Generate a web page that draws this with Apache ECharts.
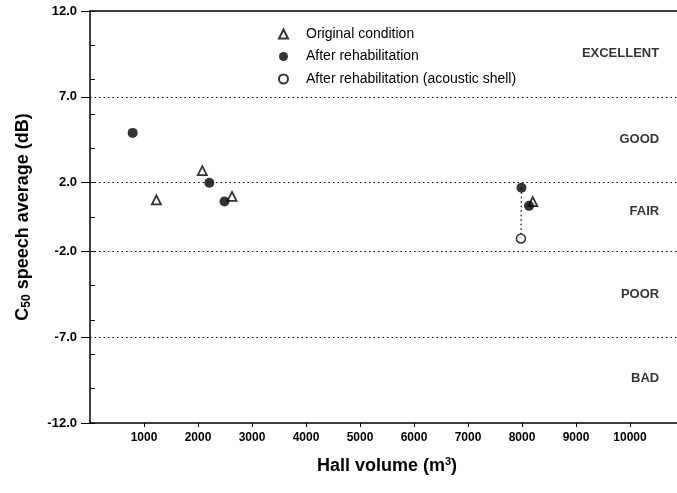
<!DOCTYPE html>
<html>
<head>
<meta charset="utf-8">
<script src="https://cdn.jsdelivr.net/npm/echarts@6/dist/echarts.min.js"></script>
<style>html,body{margin:0;padding:0;background:#fff}#c{width:677px;height:493px}</style>
</head>
<body>
<div id="c"></div>
<script>
const xTickValues = [1000, 2000, 3000, 4000, 5000, 6000, 7000, 8000, 9000, 10000];
const yLabelValues = [12, 7, 2, -2, -7, -12];
const yGridValues = [7, 2, -2, -7];

const origX = [1230, 2080, 2630, 8200];
const origY = [1.0, 2.7, 1.2, 0.9];

const rehabX = [790, 2210, 2490, 7990, 8130];
const rehabY = [4.9, 2.0, 0.9, 1.7, 0.65];

const shellX = [7980];
const shellY = [-1.25];

const linkX = [7990, 7980];
const linkY = [1.7, -1.25];

const bandNames = ['EXCELLENT', 'GOOD', 'FAIR', 'POOR', 'BAD'];
const bandY = [9.5, 4.5, 0.3, -4.5, -9.4];
const bandX = 10540;

const FONT = 'Liberation Sans';
const zip = (xs, ys) => xs.map((x, i) => [x, ys[i]]);

const chart = echarts.init(document.getElementById('c'), null, {renderer: 'canvas'});
chart.setOption({
  animation: false,
  backgroundColor: '#fff',
  textStyle: {fontFamily: FONT, color: '#000'},
  grid: {left: 90, top: 11, width: 594, height: 412, containLabel: false, outerBoundsMode: 'none'},
  legend: {
    orient: 'vertical',
    left: 273,
    top: 22,
    itemWidth: 9,
    itemHeight: 9,
    itemGap: 8.5,
    selectedMode: false,
    textStyle: {fontFamily: FONT, fontSize: 14, color: '#000', fontWeight: 'normal', padding: [0, 0, 0, 13]},
    data: ['Original condition', 'After rehabilitation', 'After rehabilitation (acoustic shell)']
  },
  xAxis: [{
    type: 'value', min: 0, max: 11000, interval: 1000,
    position: 'bottom',
    name: 'Hall volume (m{sup|3})',
    nameLocation: 'middle', nameGap: 33,
    nameTextStyle: {
      fontFamily: FONT, fontSize: 18, fontWeight: 'bold', color: '#000',
      rich: {sup: {fontSize: 11, fontWeight: 'bold', fontFamily: FONT, padding: [0, 0, 10, 0], color: '#000'}}
    },
    axisLine: {show: true, onZero: false, lineStyle: {color: '#000', width: 1.5}},
    axisTick: {show: true, inside: false, length: 4, customValues: xTickValues, lineStyle: {color: '#000', width: 1}},
    axisLabel: {customValues: xTickValues, formatter: v => String(v), fontFamily: FONT, fontSize: 12, fontWeight: 'bold', color: '#000', margin: 9},
    splitLine: {show: false}
  }, {
    type: 'value', min: 0, max: 11000, position: 'top',
    axisLine: {show: true, onZero: false, lineStyle: {color: '#000', width: 1.5}},
    axisTick: {show: false}, axisLabel: {show: false}, splitLine: {show: false}
  }],
  yAxis: [{
    type: 'value', min: -12, max: 12,
    position: 'left',
    name: '{a|C}{s|50}{a| speech average (dB)}',
    nameLocation: 'middle', nameGap: 57,
    nameRotate: 90,
    nameTextStyle: {
      fontFamily: FONT, fontSize: 18, fontWeight: 'bold', color: '#000',
      rich: {
        a: {fontSize: 18, fontWeight: 'bold', fontFamily: FONT, color: '#000'},
        s: {fontSize: 12, fontWeight: 'bold', fontFamily: FONT, color: '#000', padding: [8, 0, 0, 0]}
      }
    },
    axisLine: {show: true, onZero: false, lineStyle: {color: '#000', width: 1.5}},
    axisTick: {show: true, inside: false, length: 9, customValues: yLabelValues, lineStyle: {color: '#000', width: 1}},
    axisLabel: {customValues: yLabelValues, formatter: v => v.toFixed(1), fontFamily: FONT, fontSize: 13, fontWeight: 'bold', color: '#000', margin: 13},
    splitLine: {show: false}
  }, {
    type: 'value', min: -12, max: 12, interval: 2, position: 'left', offset: 0,
    axisLine: {show: false, onZero: false},
    axisTick: {show: true, inside: true, length: 5, lineStyle: {color: '#000', width: 1}},
    axisLabel: {show: false}, splitLine: {show: false}
  }],
  series: [{
    name: 'bands', type: 'scatter', symbolSize: 0, silent: true, z: 1,
    data: bandNames.map((n, i) => ({name: n, value: [bandX, bandY[i]]})),
    label: {show: true, position: 'left', distance: 0, formatter: p => p.name,
      fontFamily: FONT, fontSize: 13, fontWeight: 'bold', color: '#000'},
    markLine: {
      silent: true, symbol: ['none', 'none'], label: {show: false},
      lineStyle: {color: '#000', type: [1.5, 3], width: 1},
      data: yGridValues.map(v => ({yAxis: v}))
    }
  }, {
    name: 'link', type: 'line', data: zip(linkX, linkY), symbol: 'none', silent: true, z: 2,
    lineStyle: {color: '#000', type: [1.5, 3], width: 1.2}
  }, {
    name: 'Original condition', type: 'scatter', symbol: 'triangle', symbolSize: 9, z: 5,
    data: zip(origX, origY),
    itemStyle: {color: '#fff', borderColor: '#000', borderWidth: 1.8}
  }, {
    name: 'After rehabilitation', type: 'scatter', symbol: 'circle', symbolSize: 10, z: 6,
    data: zip(rehabX, rehabY),
    itemStyle: {color: '#000', borderColor: '#000', borderWidth: 0}
  }, {
    name: 'After rehabilitation (acoustic shell)', type: 'scatter', symbol: 'circle', symbolSize: 9, z: 5,
    data: zip(shellX, shellY),
    itemStyle: {color: '#fff', borderColor: '#000', borderWidth: 1.5}
  }]
});
</script>
</body>
</html>
